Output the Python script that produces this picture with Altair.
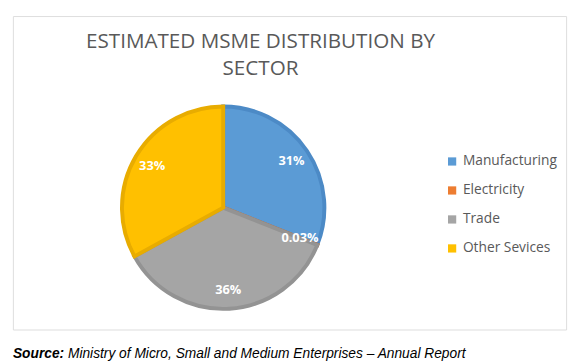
import altair as alt
import pandas as pd

sectors = ["Manufacturing", "Electricity", "Trade", "Other Sevices"]
shares = [31, 0.03, 36, 33]
labels = ["31%", "0.03%", "36%", "33%"]
fill_colors = ["#5B9BD5", "#ED7D31", "#A5A5A5", "#FFC000"]
edge_colors = ["#4C8AC6", "#D96C22", "#939393", "#E8AC00"]
title_lines = ["ESTIMATED MSME DISTRIBUTION BY", "SECTOR"]
source_bold = "Source:"
source_rest = "Ministry of Micro, Small and Medium Enterprises \u2013 Annual Report"

df = pd.DataFrame({"sector": sectors, "share": shares, "label": labels,
                   "order": list(range(len(sectors)))})

W, H = 563, 319
CX, CY = 214, 195

base = alt.Chart(df).encode(
    theta=alt.Theta("share:Q", stack=True),
    order=alt.Order("order:Q"),
)

pie = base.mark_arc(outerRadius=103, strokeWidth=4, strokeJoin="miter").encode(
    x=alt.value(CX), y=alt.value(CY),
    color=alt.Color("sector:N", scale=alt.Scale(domain=sectors, range=fill_colors),
                    sort=sectors,
                    legend=alt.Legend(title=None, orient="none", legendX=440, legendY=141,
                                      symbolType="square", symbolSize=70,
                                      symbolStrokeWidth=0,
                                      labelFont="Open Sans", labelFontSize=14,
                                      labelColor="#595959", rowPadding=15.5,
                                      labelOffset=4)),
    stroke=alt.Stroke("sector:N", scale=alt.Scale(domain=sectors, range=edge_colors),
                      legend=None),
)

text = base.mark_text(radius=84, font="Open Sans", fontSize=13, fontWeight="bold",
                      color="white").encode(
    x=alt.value(CX), y=alt.value(CY), text="label:N")

tdf = pd.DataFrame({"line": title_lines, "i": [0, 1]})
title = alt.Chart(tdf).mark_text(font="Open Sans", fontSize=21, color="#595959",
                                 align="center", baseline="middle").encode(
    x=alt.value(252),
    y=alt.Y("i:O", scale=alt.Scale(range=[26, 54], padding=0), axis=None),
    text="line:N")

sdf = pd.DataFrame({"t": [source_bold]})
src1 = alt.Chart(sdf).mark_text(font="Arial", fontSize=14, fontStyle="italic",
                                fontWeight="bold", color="black", align="left",
                                baseline="middle").encode(
    x=alt.value(0), y=alt.value(344), text="t:N")
sdf2 = pd.DataFrame({"t": [source_rest]})
src2 = alt.Chart(sdf2).mark_text(font="Arial", fontSize=14, fontStyle="italic",
                                 color="black", align="left",
                                 baseline="middle").encode(
    x=alt.value(56), y=alt.value(344), text="t:N")

chart = alt.layer(pie, text, title, src1, src2).resolve_scale(
    color="independent", stroke="independent", y="independent"
).properties(width=W, height=H).configure_view(
    stroke="#D9D9D9", strokeWidth=1
).configure(background="white")

chart.save("out.html", embed_options={"renderer": "svg", "actions": False})
